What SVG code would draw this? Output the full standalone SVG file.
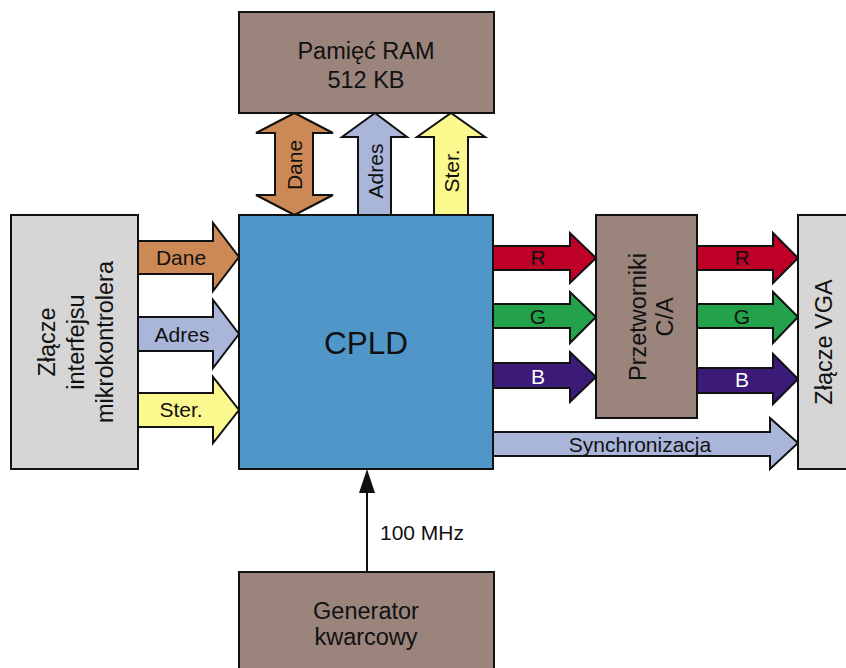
<svg xmlns="http://www.w3.org/2000/svg" width="846" height="668" viewBox="0 0 846 668">
<style>
  text { font-family: "Liberation Sans", Arial, sans-serif; fill: #111; }
  .big { font-size: 23.5px; text-anchor: middle; }
  .lbl { font-size: 21px; text-anchor: middle; }
  .box { stroke: #111; stroke-width: 2; }
  .brown { fill: #9a847c; }
  .gray { fill: #d6d6d6; }
  .blue { fill: #5096c8; }
  .arr { stroke: #111; stroke-width: 2; stroke-linejoin: miter; }
  .dane { fill: #cd8955; }
  .adres { fill: #aab5da; }
  .ster { fill: #fbf88e; }
  .r { fill: #be0028; }
  .g { fill: #23a14b; }
  .b { fill: #3b1a78; }
  .white { fill: #ffffff; }
</style>
<rect width="846" height="668" fill="#ffffff"/>

<g id="connectors">
  <!-- top: RAM bus -->
  <polygon class="arr dane" points="275,195 275,133 256,133 294.5,113 333,133 313,133 313,195 333,195 294.5,215 256,195"/>
  <polygon class="arr adres" points="358,215 358,137 342,137 375,113 407,137 391,137 391,215"/>
  <polygon class="arr ster" points="434,215 434,137 417,137 451,113 485,137 468,137 468,215"/>
  <!-- left buses -->
  <polygon class="arr dane" points="138,241 213,241 213,223 239,257 213,291 213,274 138,274"/>
  <polygon class="arr adres" points="138,317 213,317 213,300 239,334 213,368 213,351 138,351"/>
  <polygon class="arr ster" points="138,393 213,393 213,377 239,410 213,443 213,427 138,427"/>
  <!-- RGB to DAC -->
  <polygon class="arr r" points="493,246 570,246 570,233 596,258 570,283 570,270 493,270"/>
  <polygon class="arr g" points="493,304 570,304 570,292 596,317 570,343 570,328 493,328"/>
  <polygon class="arr b" points="493,363 570,363 570,352 596,377 570,402 570,388 493,388"/>
  <!-- RGB to VGA -->
  <polygon class="arr r" points="697,246 773,246 773,233 798,258 773,283 773,270 697,270"/>
  <polygon class="arr g" points="697,304 773,304 773,292 798,317 773,343 773,328 697,328"/>
  <polygon class="arr b" points="697,368 773,368 773,354 798,379 773,404 773,393 697,393"/>
  <!-- sync -->
  <polygon class="arr adres" points="493,432 770,432 770,418 798,443 770,469 770,456 493,456"/>
  <!-- clock -->
  <line x1="367" y1="572" x2="367" y2="490" stroke="#111" stroke-width="2"/>
  <polygon points="367,469 375,493 359,493" fill="#111"/>

  <text class="lbl" transform="translate(302,165) rotate(-90)">Dane</text>
  <text class="lbl" transform="translate(383,171) rotate(-90)">Adres</text>
  <text class="lbl" transform="translate(459,171) rotate(-90)">Ster.</text>
  <text class="lbl" x="181" y="265">Dane</text>
  <text class="lbl" x="182" y="342">Adres</text>
  <text class="lbl" x="181" y="417">Ster.</text>
  <text class="lbl" x="538" y="265">R</text>
  <text class="lbl" x="538" y="324">G</text>
  <text class="lbl white" x="538" y="384">B</text>
  <text class="lbl" x="742" y="265">R</text>
  <text class="lbl" x="742" y="324">G</text>
  <text class="lbl white" x="742" y="387">B</text>
  <text class="lbl" x="640" y="452">Synchronizacja</text>
  <text class="lbl" x="380" y="540" style="text-anchor:start">100 MHz</text>
</g>

<g id="ram">
  <rect class="box brown" x="239" y="12" width="255" height="101"/>
  <text class="big" x="366" y="59">Pamięć RAM</text>
  <text class="big" x="366" y="88">512 KB</text>
</g>

<g id="cpld">
  <rect class="box blue" x="239" y="215" width="254" height="254"/>
  <text x="366" y="354" style="font-size:31.5px;text-anchor:middle">CPLD</text>
</g>

<g id="mcu">
  <rect class="box gray" x="11" y="215" width="127" height="254"/>
  <text class="big" transform="translate(55,342) rotate(-90)">Złącze</text>
  <text class="big" transform="translate(84,342) rotate(-90)">interfejsu</text>
  <text class="big" transform="translate(113,342) rotate(-90)">mikrokontrolera</text>
</g>

<g id="dac">
  <rect class="box brown" x="596" y="215" width="101" height="203"/>
  <text class="big" transform="translate(646,317) rotate(-90)">Przetworniki</text>
  <text class="big" transform="translate(673,317) rotate(-90)">C/A</text>
</g>

<g id="vga">
  <rect class="box gray" x="798" y="215" width="60" height="254"/>
  <text class="big" transform="translate(832,342) rotate(-90)">Złącze VGA</text>
</g>

<g id="generator">
  <rect class="box brown" x="239" y="572" width="255" height="110"/>
  <text class="big" x="366" y="619">Generator</text>
  <text class="big" x="366" y="645">kwarcowy</text>
</g>
</svg>
